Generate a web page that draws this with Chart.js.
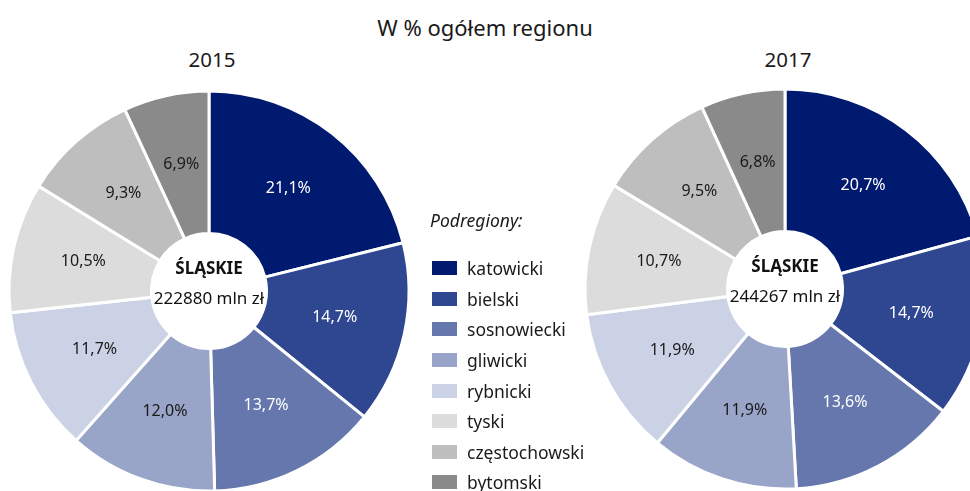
<!DOCTYPE html>
<html lang="pl">
<head>
<meta charset="utf-8">
<script src="https://cdn.jsdelivr.net/npm/chart.js"></script>
<style>
  html, body { margin: 0; padding: 0; width: 970px; height: 491px; overflow: hidden; background: #fff; }
  body { position: relative; font-family: "Noto Sans", sans-serif; color: #1a1a1a; }
  .title { position: absolute; left: 0; width: 970px; top: 12px; text-align: center; font-size: 22px; }
  .year { position: absolute; top: 45px; width: 120px; text-align: center; font-size: 20.5px; }
  .box { position: absolute; width: 420px; height: 420px; }
  #legend { position: absolute; left: 430px; top: 208px; }
  #legend .head { font-style: italic; font-size: 17.5px; margin-bottom: 21px; }
  #legend .row { height: 30.6px; display: flex; align-items: center; font-size: 17.5px; }
  #legend .sw { width: 25px; height: 14px; margin-left: 2px; margin-right: 10px; }
</style>
</head>
<body>
<div class="title">W % ogółem regionu</div>
<div class="year" id="y1" style="left:152px"></div>
<div class="year" id="y2" style="left:728px"></div>
<div class="box" style="left:-1px; top:81px"><canvas id="c1" width="420" height="420"></canvas></div>
<div class="box" style="left:575px; top:79px"><canvas id="c2" width="420" height="420"></canvas></div>
<div id="legend"><div class="head">Podregiony:</div></div>
<script>
const podregiony = ['katowicki', 'bielski', 'sosnowiecki', 'gliwicki', 'rybnicki', 'tyski', 'częstochowski', 'bytomski'];
const kolory = ['#001a70', '#2f4791', '#6577ac', '#98a4c8', '#ccd2e5', '#dcdcdc', '#bebebe', '#8a8a8a'];
const koloryEtykiet = ['#ffffff', '#ffffff', '#ffffff', '#1a1a1a', '#1a1a1a', '#1a1a1a', '#1a1a1a', '#1a1a1a'];
const lata = ['2015', '2017'];
const udzialy2015 = [21.1, 14.7, 13.7, 12.0, 11.7, 10.5, 9.3, 6.9];
const udzialy2017 = [20.7, 14.7, 13.6, 11.9, 11.9, 10.7, 9.5, 6.8];
const sumy = ['222880 mln zł', '244267 mln zł'];
const nazwaRegionu = 'ŚLĄSKIE';

document.getElementById('y1').textContent = lata[0];
document.getElementById('y2').textContent = lata[1];

let legend = document.getElementById('legend');
podregiony.forEach(function (nazwa, i) {
    let row = document.createElement('div');
    row.className = 'row';
    row.innerHTML = '<span class="sw" style="background:' + kolory[i] + '"></span>' + nazwa;
    legend.appendChild(row);
});

// etykiety procentowe na wycinkach + napis w srodku
const etykiety = {
    id: 'etykiety',
    afterDatasetsDraw(chart, args, opts) {
        const ctx = chart.ctx;
        const meta = chart.getDatasetMeta(0);
        ctx.save();
        ctx.textAlign = 'center';
        ctx.textBaseline = 'middle';
        ctx.font = '16px "Noto Sans"';
        meta.data.forEach(function (arc, i) {
            const p = arc.tooltipPosition();
            const v = chart.data.datasets[0].data[i];
            ctx.fillStyle = koloryEtykiet[i];
            ctx.fillText(v.toFixed(1).replace('.', ',') + '%', p.x, p.y - 1);
        });
        const x = meta.data[0].x;
        const y = meta.data[0].y;
        ctx.fillStyle = '#111';
        ctx.font = 'bold 17px "Noto Sans"';
        ctx.fillText(nazwaRegionu, x, y - 22);
        ctx.font = '17px "Noto Sans"';
        ctx.fillText(opts.suma, x, y + 8);
        ctx.restore();
    }
};

function rysujPie(id, dane, suma) {
    return new Chart(document.getElementById(id), {
        type: 'doughnut',
        data: {
            labels: podregiony,
            datasets: [{
                data: dane,
                backgroundColor: kolory,
                borderColor: '#ffffff',
                borderWidth: 3
            }]
        },
        options: {
            responsive: false,
            animation: false,
            radius: 200,
            cutout: 60,
            layout: { padding: 0 },
            plugins: {
                legend: { display: false },
                tooltip: { enabled: false },
                etykiety: { suma: suma }
            }
        },
        plugins: [etykiety]
    });
}

rysujPie('c1', udzialy2015, sumy[0]);
rysujPie('c2', udzialy2017, sumy[1]);
</script>
</body>
</html>
